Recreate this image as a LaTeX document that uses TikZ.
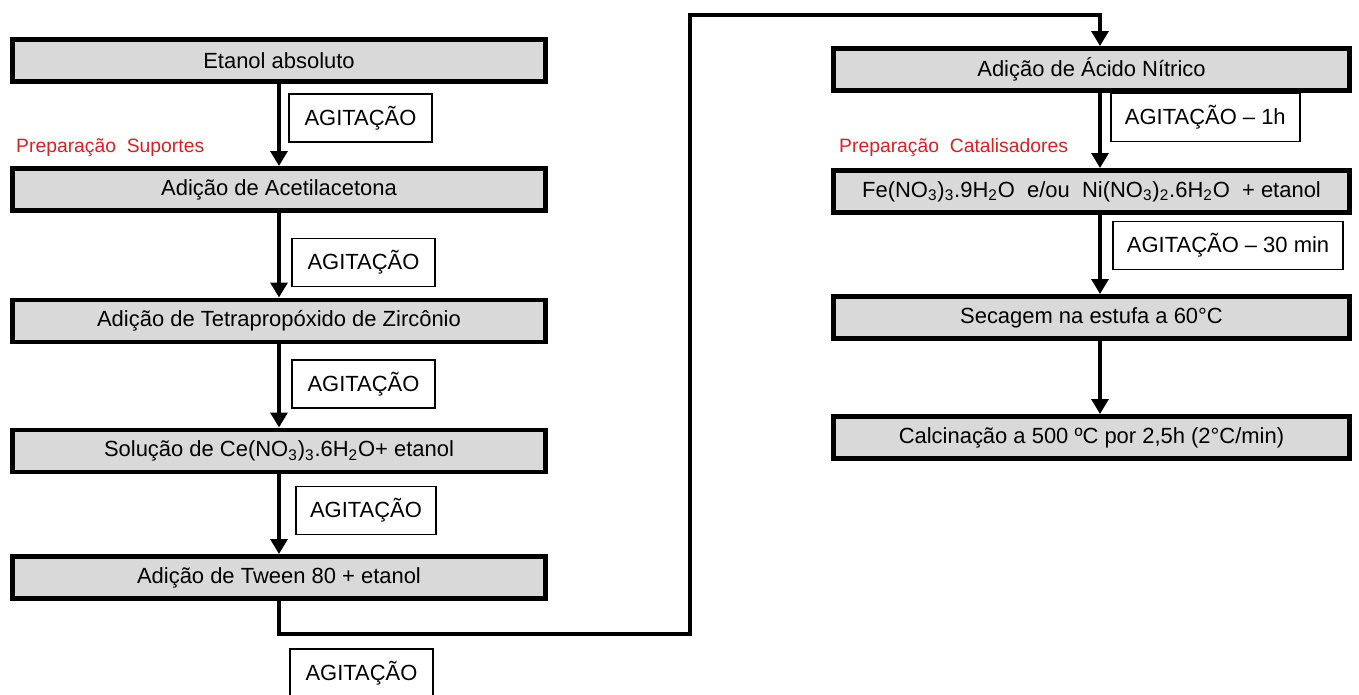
\documentclass[tikz,border=0pt]{standalone}
\usepackage{fontspec}
\setmainfont{Liberation Sans}
\usepackage{xcolor}
\usetikzlibrary{arrows.meta}
\definecolor{notered}{RGB}{218,32,32}
\newcommand{\chemsub}[1]{\textsubscript{#1}}

\begin{document}
\begin{tikzpicture}[
    x=0.02cm, y=-0.02cm,
    font=\fontsize{12.5}{15}\selectfont,
    stepbox/.style={draw, line width=2.8pt, fill=gray!30, minimum width=10.66cm, minimum height=0.84cm, inner sep=0pt},
    rightbox/.style={stepbox, minimum width=10.32cm},
    tag/.style={draw, line width=1.1pt, fill=white, anchor=west, minimum height=0.96cm, inner xsep=0.28cm},
    note/.style={anchor=west, text=notered, font=\fontsize{11}{13}\selectfont},
    arrow/.style={-{Triangle[length=8.5pt, width=9.5pt]}, line width=2.8pt}
]
\useasboundingbox (0,0) rectangle (1359,695);
\clip (0,0) rectangle (1359,695);
% preparacao dos suportes
\node[stepbox] (etanol) at (279,60.5) {Etanol absoluto};
\node[stepbox] (acetil) at (279,189.5) {Adição de Acetilacetona};
\node[stepbox] (zirconio) at (279,321) {Adição de Tetrapropóxido de Zircônio};
\node[stepbox] (cerio) at (279,451) {Solução de Ce(NO\chemsub{3})\chemsub{3}.6H\chemsub{2}O+ etanol};
\node[stepbox] (tween) at (279,577.5) {Adição de Tween 80 + etanol};
\node[note] (suportes) at (10,148) {Preparação\ \ Suportes};
% preparacao dos catalisadores
\node[rightbox] (acido) at (1091.5,69.5) {Adição de Ácido Nítrico};
\node[rightbox] (ferro) at (1091.5,191.5) {Fe(NO\chemsub{3})\chemsub{3}.9H\chemsub{2}O\ \ e/ou\ \ Ni(NO\chemsub{3})\chemsub{2}.6H\chemsub{2}O\ \ + etanol};
\node[rightbox] (secagem) at (1091.5,317.5) {Secagem na estufa a 60°C};
\node[rightbox] (calcin) at (1091.5,437.5) {Calcinação a 500 ºC por 2,5h (2°C/min)};
\node[note] (catalis) at (833,148) {Preparação\ \ Catalisadores};
% rotulos de agitacao
\node[tag, minimum width=2.86cm] (ag1) at (288,118) {AGITAÇÃO};
\node[tag, minimum width=2.86cm] (ag2) at (291,262.5) {AGITAÇÃO};
\node[tag, minimum width=2.86cm] (ag3) at (291,384) {AGITAÇÃO};
\node[tag, minimum width=2.80cm] (ag4) at (295,510.5) {AGITAÇÃO};
\node[tag, minimum width=2.86cm] (ag5) at (289,673) {AGITAÇÃO};
\node[tag] (ag6) at (1110,117.5) {AGITAÇÃO -- 1h};
\node[tag] (ag7) at (1112,245.5) {AGITAÇÃO -- 30 min};
% ligacoes
\coordinate (rx) at (1100,0);
\coordinate (turnlow) at (690,634);
\coordinate (turnhigh) at (690,15);
\draw[arrow] (etanol) -- (acetil);
\draw[arrow] (acetil) -- (zirconio);
\draw[arrow] (zirconio) -- (cerio);
\draw[arrow] (cerio) -- (tween);
\draw[arrow] (tween.south) |- (turnlow) -- (turnhigh) -| (acido.north -| rx);
\draw[arrow] (acido.south -| rx) -- (ferro.north -| rx);
\draw[arrow] (ferro.south -| rx) -- (secagem.north -| rx);
\draw[arrow] (secagem.south -| rx) -- (calcin.north -| rx);
\end{tikzpicture}
\end{document}
